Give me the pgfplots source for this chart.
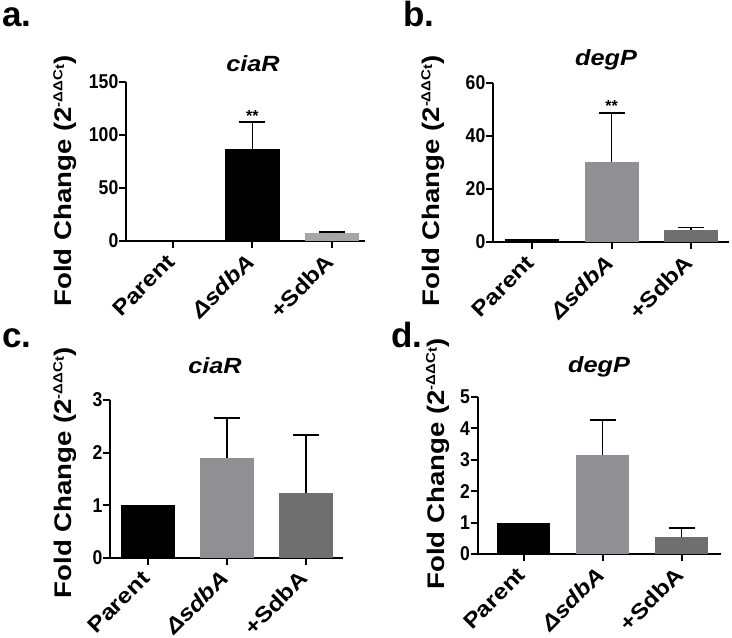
\documentclass[border=0pt]{standalone}
\usepackage{fontspec}
\usepackage{pgfplots}
\pgfplotsset{compat=1.18}
\setmainfont{Liberation Sans}
\newfontfamily\wide[FakeStretch=1.15]{Liberation Sans}
\newfontfamily\narrow[FakeStretch=0.88]{Liberation Sans}
\definecolor{lg}{RGB}{166,166,166}
\definecolor{mg}{RGB}{144,144,148}
\definecolor{dg}{RGB}{111,111,111}
\pgfplotsset{panel/.style={
  scale only axis, anchor=south west,
  axis lines*=left,
  axis line style={line width=2.4pt, black},
  tick align=outside, major tick length=7pt,
  tick style={line width=2pt, black},
  xtick={0,1,2},
  xticklabels={Parent,{\itshape ΔsdbA},+SdbA},
  ymin=0, enlargelimits=false, clip=false,
  /pgf/number format/assume math mode=true,
  y tick label style={font=\narrow\bfseries\fontsize{20}{20}\selectfont, inner sep=0.5pt},
  x tick label style={xshift=-2pt, yshift=-10pt, rotate=45, anchor=east, inner sep=0pt, font=\wide\bfseries\fontsize{21.5}{21.5}\selectfont},
  ylabel={Fold Change (2\raisebox{0.75ex}{\fontsize{13}{13}\selectfont -ΔΔC\raisebox{-0.25ex}{t}})},
  every axis y label/.append style={font=\wide\bfseries\fontsize{24}{24}\selectfont, anchor=center, rotate=0},
}}
\pgfplotsset{
  bar/.style={ybar, bar width=0.68, bar shift=0pt, draw=none, fill=#1},
  ebar/.style={ybar, bar width=0.68, bar shift=0pt, draw=none, fill=#1,
    error bars/.cd, y dir=plus, y explicit,
    error bar style={line width=1.6pt, black},
    error mark options={rotate=90, mark size=13pt, line width=1.6pt, black}},
}
\begin{document}
\begin{tikzpicture}[x=1pt,y=1pt]
\useasboundingbox (0,0) rectangle (732,638);
% panel a
\begin{axis}[panel, at={(126pt,397pt)}, width=239pt, height=159pt,
  xmin=-0.59, xmax=2.415, ymax=150, ytick={0,50,100,150},
  ylabel style={at={(rel axis cs:-0.255,0.377)}}]
\addplot[bar=black] coordinates {(0,1)};
\addplot[ebar=black] coordinates {(1,86.5) +- (0,26)};
\addplot[ebar=lg] coordinates {(2,7.5) +- (0,1)};
\node[font=\bfseries\fontsize{16}{16}\selectfont] at (axis cs:1,118) {**};
\end{axis}
% panel b
\begin{axis}[panel, at={(493pt,396pt)}, width=236pt, height=159pt,
  xmin=-0.496, xmax=2.48, ymax=60, ytick={0,20,40,60},
  ylabel style={at={(rel axis cs:-0.254,0.384)}}]
\addplot[bar=black] coordinates {(0,1)};
\addplot[ebar=mg] coordinates {(1,30.3) +- (0,18.3)};
\addplot[ebar=dg] coordinates {(2,4.5) +- (0,0.9)};
\node[font=\bfseries\fontsize{16}{16}\selectfont] at (axis cs:1,51.5) {**};
\end{axis}
% panel c
\begin{axis}[panel, at={(110pt,80.3pt)}, width=233pt, height=157.7pt,
  xmin=-0.48, xmax=2.47, ymax=3, ytick={0,1,2,3},
  ylabel style={at={(rel axis cs:-0.193,0.537)}}]
\addplot[bar=black] coordinates {(0,1)};
\addplot[ebar=mg] coordinates {(1,1.9) +- (0,0.76)};
\addplot[ebar=dg] coordinates {(2,1.24) +- (0,1.09)};
\end{axis}
% panel d
\begin{axis}[panel, at={(477.7pt,84pt)}, width=243.3pt, height=157.3pt,
  xmin=-0.58, xmax=2.5, ymax=5, ytick={0,1,2,3,4,5},
  ylabel style={at={(rel axis cs:-0.164,0.572)}}]
\addplot[bar=black] coordinates {(0,1)};
\addplot[ebar=mg] coordinates {(1,3.14) +- (0,1.12)};
\addplot[ebar=dg] coordinates {(2,0.55) +- (0,0.28)};
\end{axis}
% titles
\node[anchor=base, font=\wide\bfseries\itshape\fontsize{22}{22}\selectfont] at (253,566) {ciaR};
\node[anchor=base, font=\wide\bfseries\itshape\fontsize{22}{22}\selectfont] at (606,572) {degP};
\node[anchor=base, font=\wide\bfseries\itshape\fontsize{22}{22}\selectfont] at (215,264) {ciaR};
\node[anchor=base, font=\wide\bfseries\itshape\fontsize{22}{22}\selectfont] at (599,265) {degP};
% panel letters
\node[anchor=base west, inner sep=0pt, font=\bfseries\fontsize{35}{35}\selectfont] at (2,611) {a.};
\node[anchor=base west, inner sep=0pt, font=\bfseries\fontsize{35}{35}\selectfont] at (403,611) {b.};
\node[anchor=base west, inner sep=0pt, font=\bfseries\fontsize{35}{35}\selectfont] at (2,290) {c.};
\node[anchor=base west, inner sep=0pt, font=\bfseries\fontsize{35}{35}\selectfont] at (391,290) {d.};
\end{tikzpicture}
\end{document}
